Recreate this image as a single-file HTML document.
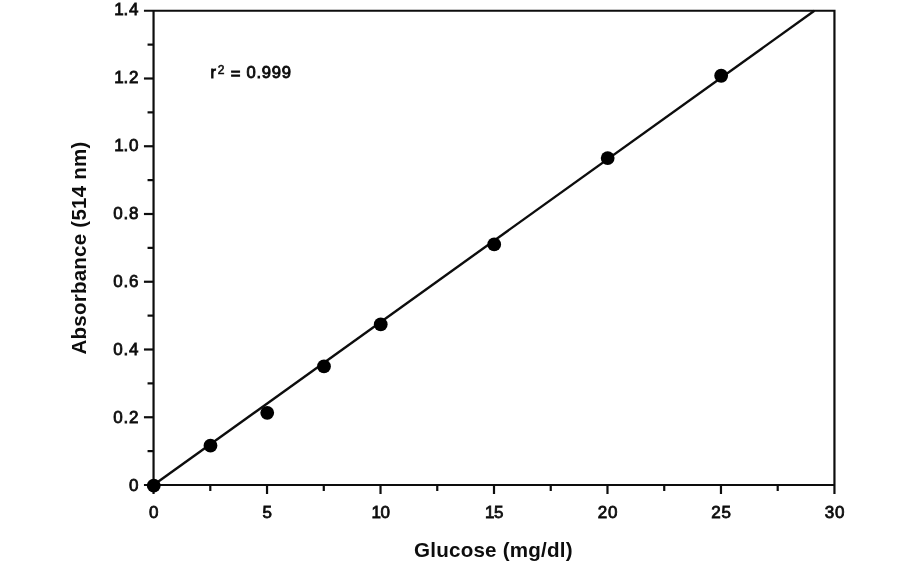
<!DOCTYPE html>
<html><head><meta charset="utf-8"><title>Glucose standard curve</title>
<style>html,body{margin:0;padding:0;background:#fff;}svg{display:block;}</style></head>
<body>
<svg width="912" height="562" viewBox="0 0 912 562">
<rect width="912" height="562" fill="#fff"/>
<g stroke="#0d0d0d" stroke-width="2.2" fill="none" stroke-linecap="butt">
<path d="M143.95000000000002,10.75 H834.45 V494.0"/>
<path d="M153.55,10.75 V494.0"/>
<path d="M143.95000000000002,485.0 H834.45"/>
<path d="M147.55,451.12 H153.55"/>
<path d="M143.95000000000002,417.25 H153.55"/>
<path d="M147.55,383.38 H153.55"/>
<path d="M143.95000000000002,349.50 H153.55"/>
<path d="M147.55,315.62 H153.55"/>
<path d="M143.95000000000002,281.75 H153.55"/>
<path d="M147.55,247.87 H153.55"/>
<path d="M143.95000000000002,214.00 H153.55"/>
<path d="M147.55,180.12 H153.55"/>
<path d="M143.95000000000002,146.25 H153.55"/>
<path d="M147.55,112.37 H153.55"/>
<path d="M143.95000000000002,78.50 H153.55"/>
<path d="M147.55,44.62 H153.55"/>
<path d="M210.29,485.0 V491.0"/>
<path d="M267.03,485.0 V494.0"/>
<path d="M323.78,485.0 V491.0"/>
<path d="M380.52,485.0 V494.0"/>
<path d="M437.26,485.0 V491.0"/>
<path d="M494.00,485.0 V494.0"/>
<path d="M550.74,485.0 V491.0"/>
<path d="M607.48,485.0 V494.0"/>
<path d="M664.23,485.0 V491.0"/>
<path d="M720.97,485.0 V494.0"/>
<path d="M777.71,485.0 V491.0"/>
</g>
<path d="M153.55,485.0 L814.4,10.75" stroke="#0d0d0d" stroke-width="2.4" fill="none"/>
<circle cx="153.75" cy="485.64" r="6.9" fill="#000"/>
<circle cx="210.49" cy="445.67" r="6.9" fill="#000"/>
<circle cx="267.23" cy="412.81" r="6.9" fill="#000"/>
<circle cx="323.98" cy="366.40" r="6.9" fill="#000"/>
<circle cx="380.72" cy="324.39" r="6.9" fill="#000"/>
<circle cx="494.20" cy="244.45" r="6.9" fill="#000"/>
<circle cx="607.68" cy="158.07" r="6.9" fill="#000"/>
<circle cx="721.17" cy="75.75" r="6.9" fill="#000"/>
<g font-family="'Liberation Sans', sans-serif" font-size="17.0" fill="#0d0d0d" stroke="#0d0d0d" stroke-width="0.8" letter-spacing="0.8">
<text x="139.3" y="491.20" text-anchor="end">0</text>
<text x="139.3" y="423.21" text-anchor="end">0.2</text>
<text x="139.3" y="355.23" text-anchor="end">0.4</text>
<text x="139.3" y="287.24" text-anchor="end">0.6</text>
<text x="139.3" y="219.26" text-anchor="end">0.8</text>
<text x="139.3" y="151.27" text-anchor="end">1<tspan dx="-1.1">.0</tspan></text>
<text x="139.3" y="83.29" text-anchor="end">1<tspan dx="-1.1">.2</tspan></text>
<text x="139.3" y="15.30" text-anchor="end">1<tspan dx="-1.1">.4</tspan></text>
<text x="154.15" y="517.5" text-anchor="middle">0</text>
<text x="267.63" y="517.5" text-anchor="middle">5</text>
<text x="381.12" y="517.5" text-anchor="middle">1<tspan dx="-1.1">0</tspan></text>
<text x="494.60" y="517.5" text-anchor="middle">1<tspan dx="-1.1">5</tspan></text>
<text x="608.08" y="517.5" text-anchor="middle">20</text>
<text x="721.57" y="517.5" text-anchor="middle">25</text>
<text x="835.05" y="517.5" text-anchor="middle">30</text>
</g>
<g font-family="'Liberation Sans', sans-serif" font-weight="bold" fill="#0d0d0d">
<text x="493.4" y="556.7" font-size="20.6" letter-spacing="0.2" text-anchor="middle">Glucose (mg/dl)</text>
<text transform="translate(86.0,248) rotate(-90)" font-size="20.6" letter-spacing="0.2" text-anchor="middle">Absorbance (514 nm)</text>
<g font-weight="normal" stroke="#0d0d0d" stroke-width="0.9" font-size="16.6"><text x="210.6" y="78.3" font-size="16.2">r</text><text x="217.7" y="73.5" font-size="12" stroke-width="0.6">2</text><text x="230.7" y="79.0">=</text><text x="246.5" y="78.3" letter-spacing="0.75">0.999</text></g>
</g>
</svg>
</body></html>
